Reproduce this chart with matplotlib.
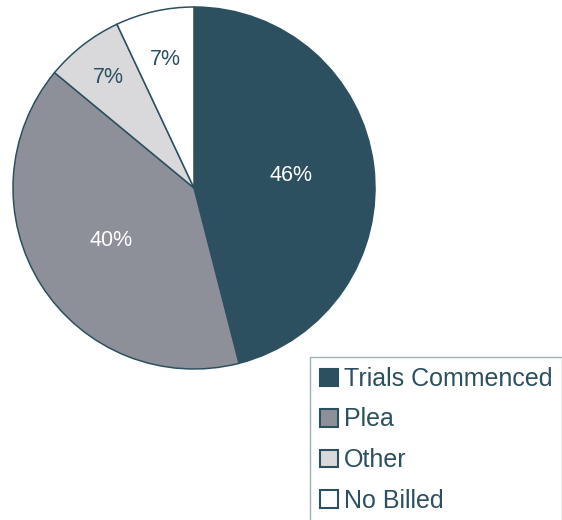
import matplotlib
matplotlib.use("Agg")
import matplotlib.pyplot as plt
import numpy as np

plt.rcParams['font.family'] = ['Liberation Sans', 'DejaVu Sans']

# case dispositions
labels = ['Trials Commenced', 'Plea', 'Other', 'No Billed']
shares = [46, 40, 7, 7]

colors = ['#2c5060', '#8e9099', '#d9d9db', '#ffffff']
text_colors = ['white', 'white', '#2c5060', '#2c5060']
label_dist = [0.54, 0.54, 0.77, 0.73]
dark = '#2c5060'

W, H = 562, 520
fig = plt.figure(figsize=(W / 100, H / 100), dpi=100)

# pie centre (194, 188) px, radius 181 px
cx, cy, r = 194, 188, 181
ax = fig.add_axes([(cx - r) / W, 1 - (cy + r) / H, 2 * r / W, 2 * r / H])
wedges, _ = ax.pie(shares, colors=colors, startangle=90, counterclock=False,
                   wedgeprops=dict(edgecolor=dark, linewidth=1.1))
ax.set_xlim(-1, 1)
ax.set_ylim(-1, 1)
ax.set_aspect('equal')
ax.axis('off')

# percentage labels at each wedge's mid angle
for w, v, d, tc in zip(wedges, shares, label_dist, text_colors):
    mid = np.deg2rad((w.theta1 + w.theta2) / 2)
    ax.text(d * np.cos(mid), d * np.sin(mid), f'{v}%', ha='center',
            va='center', fontsize=15.5, color=tc)

leg = fig.legend(wedges, labels, loc='upper left',
                 bbox_to_anchor=(310 / W, 1 - 357 / H),
                 frameon=True, fancybox=False, fontsize=18,
                 handlelength=0.7, handleheight=0.7, handletextpad=0.25,
                 labelspacing=0.66, borderpad=0.4, borderaxespad=0)
leg.get_frame().set_edgecolor('#8a9ba5')
leg.get_frame().set_linewidth(1.0)
for t in leg.get_texts():
    t.set_color(dark)
for h in leg.legend_handles:
    h.set_edgecolor(dark)
    h.set_linewidth(1.5)

fig.savefig('out.png', dpi=100)
